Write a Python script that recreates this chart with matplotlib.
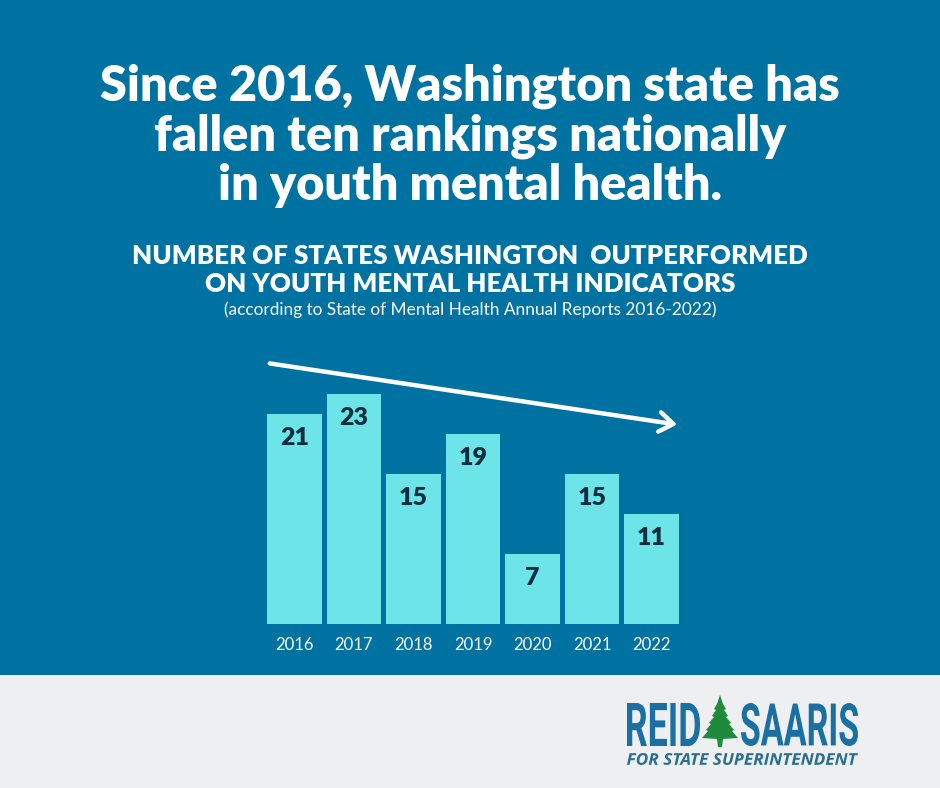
import matplotlib
matplotlib.use('Agg')
import matplotlib.pyplot as plt
from matplotlib.patches import Rectangle, Polygon, PathPatch, FancyArrowPatch
from matplotlib.textpath import TextPath
from matplotlib.font_manager import FontProperties
from matplotlib.transforms import Affine2D, IdentityTransform

# Dados do gráfico
anos = ["2016", "2017", "2018", "2019", "2020", "2021", "2022"]
estados = [21, 23, 15, 19, 7, 15, 11]

AZUL = "#0072a2"
CIANO = "#6de5e8"
ESCURO = "#0f2d3f"
CINZA = "#edeff1"
W, H = 940, 788


def fy(py):
    # pixel a partir do topo -> fração da figura
    return 1 - py / H


def fx(px):
    return px / W


fig = plt.figure(figsize=(W / 100, H / 100), dpi=100)
fig.patch.set_facecolor(AZUL)

# faixa cinza do rodapé
fig.patches.append(Rectangle((0, 0), 1, 113 / H, transform=fig.transFigure,
                             facecolor=CINZA, edgecolor="none", zorder=0))

# título
titulo = ["Since 2016, Washington state has", "fallen ten rankings nationally",
          "in youth mental health."]
for i, linha in enumerate(titulo):
    fig.text(0.5, fy(86 + i * 50), linha, ha="center", va="center", color="white",
             fontsize=35, fontweight="heavy", family="Lato")

fig.text(0.5, fy(256), "NUMBER OF STATES WASHINGTON  OUTPERFORMED", ha="center",
         va="center", color="white", fontsize=18.6, fontweight="heavy", family="Lato")
fig.text(0.5, fy(284), "ON YOUTH MENTAL HEALTH INDICATORS", ha="center",
         va="center", color="white", fontsize=18.6, fontweight="heavy", family="Lato")
fig.text(0.5, fy(310), "(according to State of Mental Health Annual Reports 2016-2022)",
         ha="center", va="center", color="white", fontsize=12.4, family="Lato")

# gráfico de barras
ax = fig.add_axes([fx(267), fy(624), fx(679) - fx(267), 300 / H])
ax.set_facecolor("none")
x = list(range(len(anos)))
ax.bar(x, estados, width=0.92, color=CIANO, edgecolor="none")
ax.set_xlim(-0.46, len(anos) - 0.54)
ax.set_ylim(0, 30)
for xi, v in zip(x, estados):
    ax.annotate(str(v), (xi, v), xytext=(0, -17), textcoords="offset points",
                ha="center", va="center", color=ESCURO, fontsize=18,
                fontweight="heavy", family="Lato")
ax.set_xticks(x)
ax.set_xticklabels(anos, color="white", fontsize=12, family="Lato")
ax.tick_params(axis="x", length=0, pad=9)
ax.set_yticks([])
for s in ax.spines.values():
    s.set_visible(False)

# seta de tendência
fig.add_artist(FancyArrowPatch(
    (fx(267), fy(363)), (fx(680), fy(425)), transform=fig.transFigure,
    arrowstyle="->,head_length=5,head_width=3.5", color="white", lw=3.2,
    mutation_scale=2))


# logotipo
def texto_caixa(s, x0, y0, x1, y1, cor, prop):
    tp = TextPath((0, 0), s, size=100, prop=prop)
    bb = tp.get_extents()
    sx = (x1 - x0) / bb.width
    sy = (y1 - y0) / bb.height
    tr = Affine2D().translate(-bb.x0, -bb.y0).scale(sx, sy).translate(x0, H - y1)
    p = PathPatch(tr.transform_path(tp), facecolor=cor, edgecolor="none",
                  transform=IdentityTransform())
    fig.patches.append(p)


logo_azul = "#1a6fa3"
fp = FontProperties(family="Roboto", weight="bold")
texto_caixa("REID", 627, 703, 700, 746, logo_azul, fp)
texto_caixa("SAARIS", 741, 703, 858, 746, logo_azul, fp)
texto_caixa("FOR STATE SUPERINTENDENT", 627, 753, 858, 765, "#2b6f8e",
            FontProperties(family="Open Sans", weight="bold", style="italic"))

# árvore
pts = [(720, 695), (723, 704), (726, 709), (724, 710), (728, 716), (726, 717),
       (731, 723), (729, 724), (734, 730), (732, 731), (738, 738), (723, 739),
       (722, 747), (718, 747), (717, 739), (702, 738), (708, 731), (706, 730),
       (711, 724), (709, 723), (714, 717), (712, 716), (716, 710), (714, 709),
       (717, 704)]
fig.patches.append(Polygon([(px, H - py) for px, py in pts], closed=True,
                           facecolor="#1e8a3c", edgecolor="none",
                           transform=IdentityTransform()))

fig.savefig("out.png", dpi=100, facecolor=fig.get_facecolor())
